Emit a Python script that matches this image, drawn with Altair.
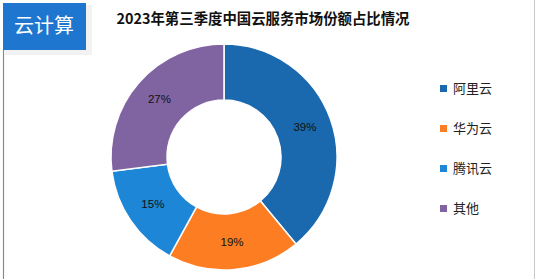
import altair as alt
import pandas as pd

categories = ["阿里云", "华为云", "腾讯云", "其他"]
shares = [39, 19, 15, 27]
colors = ["#1a68ae", "#fd7d23", "#1e86d6", "#8064a2"]

title_text = "2023年第三季度中国云服务市场份额占比情况"
badge_text = "云计算"

df = pd.DataFrame({
    "name": categories,
    "share": shares,
    "idx": list(range(len(categories))),
})
df["label"] = df["share"].astype(str) + "%"

W, H = 536, 279
CX, CY = 224, 157

base = alt.Chart(df).encode(
    theta=alt.Theta("share:Q", stack=True),
    order=alt.Order("idx:Q"),
)

arcs = base.mark_arc(outerRadius=113, innerRadius=57, stroke="white", strokeWidth=1.5).encode(
    x=alt.value(CX),
    y=alt.value(CY),
    color=alt.Color(
        "name:N",
        scale=alt.Scale(domain=categories, range=colors),
        sort=categories,
        legend=alt.Legend(
            title=None,
            orient="none",
            legendX=437,
            legendY=82,
            symbolType="square",
            symbolSize=49,
            symbolStrokeWidth=0,
            labelFontSize=13,
            labelFont="Noto Sans CJK SC",
            labelColor="#222222",
            labelOffset=3,
            rowPadding=26,
        ),
    ),
)

labels = base.mark_text(radius=86, fontSize=11.5, font="Liberation Sans", color="#111111").encode(
    x=alt.value(CX),
    y=alt.value(CY),
    text="label:N",
)

dummy = alt.Data(values=[{"a": 1}])

left_line = alt.Chart(dummy).mark_rule(color="#8a8a8a", strokeWidth=1.2).encode(
    x=alt.value(3.5), y=alt.value(50), y2=alt.value(H)
)
right_line = alt.Chart(dummy).mark_rule(color="#c8c8c8", strokeWidth=1).encode(
    x=alt.value(534.5), y=alt.value(0), y2=alt.value(H)
)
shadow = alt.Chart(dummy).mark_rect(color="#000000", opacity=0.05).encode(
    x=alt.value(5), x2=alt.value(92), y=alt.value(5), y2=alt.value(55)
)
badge = alt.Chart(dummy).mark_rect(color="#1e76cf").encode(
    x=alt.value(3), x2=alt.value(86), y=alt.value(3), y2=alt.value(50)
)
badge_label = alt.Chart(dummy).mark_text(
    text=badge_text, color="white", fontSize=20, font="Noto Sans CJK SC", baseline="middle"
).encode(x=alt.value(44), y=alt.value(27))

title = alt.Chart(dummy).mark_text(
    text=title_text, color="#111111", fontSize=14.4, fontWeight="bold",
    font="Noto Sans CJK SC", baseline="middle"
).encode(x=alt.value(263), y=alt.value(20))

chart = alt.layer(
    shadow, badge, badge_label, title, left_line, right_line, arcs, labels
).properties(
    width=W, height=H, padding=0, autosize=alt.AutoSizeParams(type="none"),
    background="white",
).configure_view(stroke=None)

chart.save("out.html", embed_options={"renderer": "svg", "actions": False})
